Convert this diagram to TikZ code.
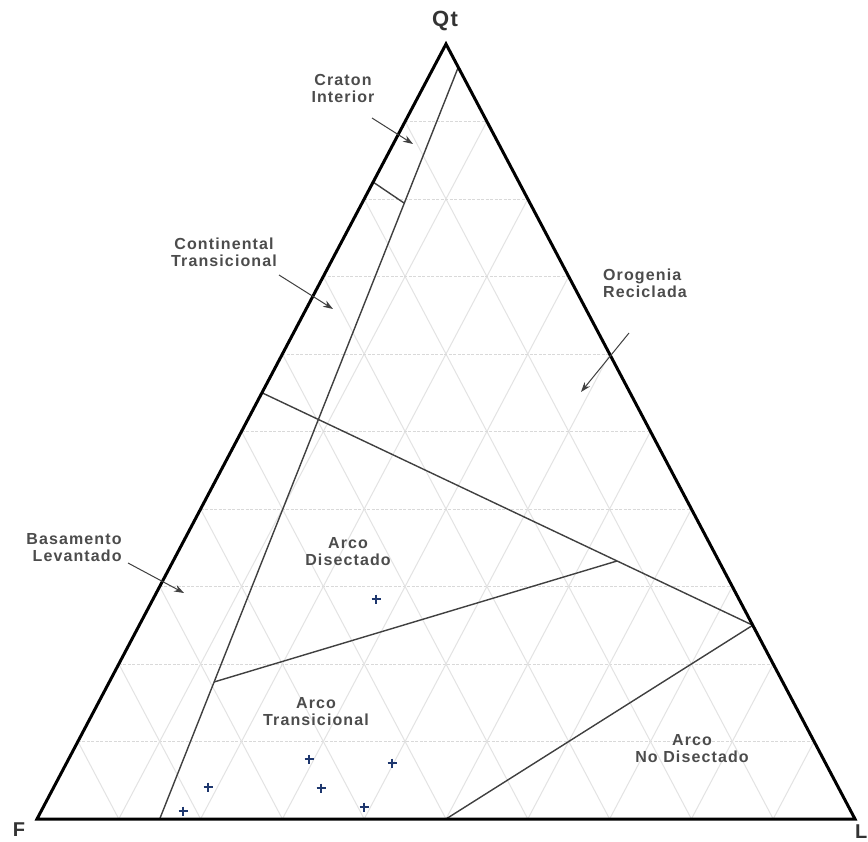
\documentclass[tikz,border=0pt]{standalone}
\usepackage{fontspec}
\setmainfont{Liberation Sans}[LetterSpace=7]
\usetikzlibrary{calc,arrows.meta}
\definecolor{ptblue}{RGB}{30,55,110}
\tikzset{
  gridline/.style={draw=black!11, line width=1pt},
  hgridline/.style={draw=black!15, line width=1pt, dash pattern=on 3pt off 1.5pt},
  field/.style={draw=black!75, line width=1.4pt},
  frame/.style={draw=black, line width=3pt, line join=miter},
  lbl/.style={font=\fontsize{16}{17}\selectfont\bfseries, text=black!70, align=center, inner sep=0pt},
  vlbl/.style={font=\fontsize{20}{22}\selectfont\bfseries, text=black!80, inner sep=0pt},
  pointer/.style={draw=black!75, line width=1pt, -{Stealth[length=10pt,width=7pt]}},
  mk/.style={draw=ptblue, line width=2pt}
}
\newcommand{\plusmark}[1]{\draw[mk] ($(#1)+(-4.5,0)$) -- ($(#1)+(4.5,0)$); \draw[mk] ($(#1)+(0,-4.5)$) -- ($(#1)+(0,4.5)$);}
\begin{document}
\begin{tikzpicture}[x=1pt,y=-1pt]
\useasboundingbox (0,0) rectangle (868,842);
\fill[white] (0,0) rectangle (868,842);
\coordinate (Qt) at (446,44);
\coordinate (F) at (37,819);
\coordinate (L) at (855,819);
% grid
\foreach \i in {1,...,9}{
  \draw[hgridline] ($(F)!{\i/10}!(Qt)$) -- ($(L)!{\i/10}!(Qt)$);
  \draw[gridline] ($(Qt)!{\i/10}!(F)$) -- ($(L)!{\i/10}!(F)$);
  \draw[gridline] ($(Qt)!{\i/10}!(L)$) -- ($(F)!{\i/10}!(L)$);
}
% field boundaries
\coordinate (topA) at ($(Qt)!0.03!(L)$);
\coordinate (baseA) at ($(F)!0.15!(L)$);
\coordinate (q55) at ($(F)!0.55!(Qt)$);
\coordinate (q25) at ($(L)!0.25!(Qt)$);
\coordinate (baseU) at ($(F)!0.5!(L)$);
\coordinate (ci1) at (373,182);
\coordinate (ci2) at (404,203);
\coordinate (ar1) at (214,682);
\coordinate (ar2) at (617,561);
\draw[field] (topA) -- (baseA);
\draw[field] (ci1) -- (ci2);
\draw[field] (q55) -- (q25);
\draw[field] (q25) -- (baseU);
\draw[field] (ar1) -- (ar2);
% frame
\draw[frame] (Qt) -- (F) -- (L) -- cycle;
% vertex labels
\node[vlbl, font=\fontsize{22}{24}\selectfont\bfseries] (lQt) at (445,21) {Qt};
\node[vlbl] (lF) at (19,830) {F};
\node[vlbl, anchor=west] (lL) at (855,832) {L};
% field labels
\node[lbl] (craton) at (343,88) {Craton\\Interior};
\node[lbl] (cont) at (224,252) {Continental\\Transicional};
\node[lbl, align=left] (orog) at (645,283) {Orogenia\\Reciclada};
\node[lbl, align=right] (basa) at (74,548) {Basamento\\Levantado};
\node[lbl] (disec) at (348,552) {Arco\\Disectado};
\node[lbl] (trans) at (316,712) {Arco\\Transicional};
\node[lbl] (nodis) at (692,749) {Arco\\No Disectado};
% pointers
\coordinate (pc1) at (372,118); \coordinate (pc2) at (413,144);
\coordinate (pt1) at (279,275); \coordinate (pt2) at (333,309);
\coordinate (po1) at (629,333); \coordinate (po2) at (581,392);
\coordinate (pb1) at (128,563); \coordinate (pb2) at (184,593);
\draw[pointer] (pc1) -- (pc2);
\draw[pointer] (pt1) -- (pt2);
\draw[pointer] (po1) -- (po2);
\draw[pointer] (pb1) -- (pb2);
% data points
\coordinate (d1) at (376,599);
\coordinate (d2) at (309,759);
\coordinate (d3) at (392,763);
\coordinate (d4) at (208,787);
\coordinate (d5) at (321,788);
\coordinate (d6) at (183,811);
\coordinate (d7) at (364,807);
\foreach \d in {d1,d2,d3,d4,d5,d6,d7}{\plusmark{\d}}
\end{tikzpicture}
\end{document}
